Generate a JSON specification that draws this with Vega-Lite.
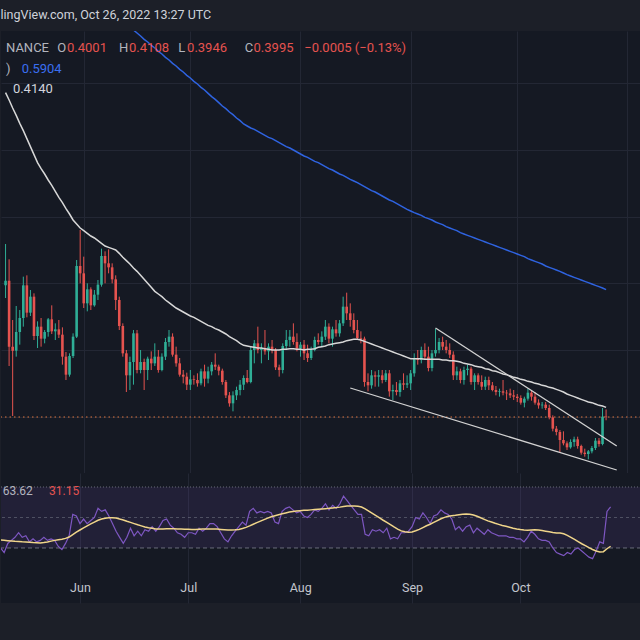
{
"$schema":"https://vega.github.io/schema/vega-lite/v6.json",
"background":"#1c1f28",
"padding":{"left":0,"right":0,"top":8,"bottom":38},
"spacing":0,
"title":{"text":"lingView.com, Oct 26, 2022 13:27 UTC","anchor":"start","frame":"bounds","fontSize":12.5,"fontWeight":"normal","color":"#cfd2da","offset":10},
"config":{"font":"Roboto","view":{"stroke":null,"fill":"#151923"},"axis":{"minExtent":0,"domain":false,"ticks":false,"gridColor":"#232734","gridWidth":1,"labelColor":"#c3c6ce","labelFontSize":12.5,"labelFont":"Roboto"}},
"datasets":{
"ada":[
{"d":"2022-05-10","o":0.597,"h":0.659,"l":0.578,"c":0.604,"m50":0.886,"r":30,"rm":35.2},
{"d":"2022-05-11","o":0.604,"h":0.636,"l":0.476,"c":0.505,"m50":0.875,"r":27,"rm":35.0},
{"d":"2022-05-12","o":0.505,"h":0.545,"l":0.401,"c":0.499,"m50":0.863,"r":33,"rm":34.8},
{"d":"2022-05-13","o":0.499,"h":0.566,"l":0.490,"c":0.527,"m50":0.852,"r":35,"rm":34.6},
{"d":"2022-05-14","o":0.527,"h":0.560,"l":0.508,"c":0.548,"m50":0.840,"r":37,"rm":34.4},
{"d":"2022-05-15","o":0.548,"h":0.610,"l":0.535,"c":0.597,"m50":0.829,"r":40,"rm":34.3},
{"d":"2022-05-16","o":0.597,"h":0.612,"l":0.549,"c":0.556,"m50":0.817,"r":37,"rm":34.1},
{"d":"2022-05-17","o":0.556,"h":0.590,"l":0.551,"c":0.580,"m50":0.805,"r":38,"rm":34.0},
{"d":"2022-05-18","o":0.580,"h":0.585,"l":0.515,"c":0.521,"m50":0.793,"r":34,"rm":33.8},
{"d":"2022-05-19","o":0.521,"h":0.543,"l":0.503,"c":0.535,"m50":0.781,"r":36,"rm":33.6},
{"d":"2022-05-20","o":0.535,"h":0.548,"l":0.505,"c":0.517,"m50":0.772,"r":34,"rm":33.5},
{"d":"2022-05-21","o":0.517,"h":0.530,"l":0.510,"c":0.527,"m50":0.764,"r":35,"rm":33.3},
{"d":"2022-05-22","o":0.527,"h":0.548,"l":0.520,"c":0.546,"m50":0.755,"r":37,"rm":33.6},
{"d":"2022-05-23","o":0.546,"h":0.567,"l":0.524,"c":0.528,"m50":0.747,"r":35,"rm":34.0},
{"d":"2022-05-24","o":0.528,"h":0.540,"l":0.515,"c":0.531,"m50":0.738,"r":36,"rm":34.5},
{"d":"2022-05-25","o":0.531,"h":0.545,"l":0.518,"c":0.523,"m50":0.729,"r":35,"rm":35.0},
{"d":"2022-05-26","o":0.523,"h":0.534,"l":0.478,"c":0.490,"m50":0.721,"r":31,"rm":35.4},
{"d":"2022-05-27","o":0.490,"h":0.497,"l":0.455,"c":0.463,"m50":0.712,"r":29,"rm":35.8},
{"d":"2022-05-28","o":0.463,"h":0.495,"l":0.460,"c":0.491,"m50":0.704,"r":33,"rm":36.3},
{"d":"2022-05-29","o":0.491,"h":0.525,"l":0.488,"c":0.520,"m50":0.695,"r":38,"rm":37.2},
{"d":"2022-05-30","o":0.520,"h":0.635,"l":0.518,"c":0.626,"m50":0.689,"r":52,"rm":38.8},
{"d":"2022-05-31","o":0.626,"h":0.680,"l":0.600,"c":0.615,"m50":0.683,"r":51,"rm":40.4},
{"d":"2022-06-01","o":0.615,"h":0.640,"l":0.563,"c":0.570,"m50":0.679,"r":46,"rm":41.8},
{"d":"2022-06-02","o":0.570,"h":0.600,"l":0.558,"c":0.591,"m50":0.675,"r":49,"rm":43.2},
{"d":"2022-06-03","o":0.591,"h":0.594,"l":0.560,"c":0.567,"m50":0.671,"r":46,"rm":44.5},
{"d":"2022-06-04","o":0.567,"h":0.590,"l":0.565,"c":0.583,"m50":0.668,"r":48,"rm":45.8},
{"d":"2022-06-05","o":0.583,"h":0.605,"l":0.575,"c":0.598,"m50":0.664,"r":50,"rm":47.0},
{"d":"2022-06-06","o":0.598,"h":0.652,"l":0.595,"c":0.641,"m50":0.660,"r":56,"rm":48.2},
{"d":"2022-06-07","o":0.641,"h":0.648,"l":0.600,"c":0.630,"m50":0.656,"r":54,"rm":49.0},
{"d":"2022-06-08","o":0.630,"h":0.651,"l":0.615,"c":0.624,"m50":0.654,"r":55,"rm":49.5},
{"d":"2022-06-09","o":0.624,"h":0.630,"l":0.600,"c":0.606,"m50":0.652,"r":51,"rm":49.8},
{"d":"2022-06-10","o":0.606,"h":0.612,"l":0.560,"c":0.575,"m50":0.650,"r":46,"rm":49.8},
{"d":"2022-06-11","o":0.575,"h":0.580,"l":0.530,"c":0.536,"m50":0.645,"r":41,"rm":49.7},
{"d":"2022-06-12","o":0.536,"h":0.540,"l":0.490,"c":0.495,"m50":0.639,"m200":0.994,"r":37,"rm":49.0},
{"d":"2022-06-13","o":0.495,"h":0.500,"l":0.437,"c":0.462,"m50":0.634,"m200":0.989,"r":33,"rm":48.4},
{"d":"2022-06-14","o":0.462,"h":0.490,"l":0.440,"c":0.482,"m50":0.629,"m200":0.985,"r":37,"rm":47.5},
{"d":"2022-06-15","o":0.482,"h":0.530,"l":0.448,"c":0.525,"m50":0.623,"m200":0.980,"r":43,"rm":46.8},
{"d":"2022-06-16","o":0.525,"h":0.530,"l":0.465,"c":0.470,"m50":0.618,"m200":0.9755,"r":38,"rm":46.0},
{"d":"2022-06-17","o":0.470,"h":0.500,"l":0.465,"c":0.482,"m50":0.612,"m200":0.971,"r":41,"rm":45.2},
{"d":"2022-06-18","o":0.482,"h":0.487,"l":0.440,"c":0.470,"m50":0.606,"m200":0.966,"r":38,"rm":44.5},
{"d":"2022-06-19","o":0.470,"h":0.490,"l":0.455,"c":0.487,"m50":0.600,"m200":0.962,"r":42,"rm":43.8},
{"d":"2022-06-20","o":0.487,"h":0.498,"l":0.470,"c":0.480,"m50":0.594,"m200":0.957,"r":41,"rm":43.3},
{"d":"2022-06-21","o":0.480,"h":0.510,"l":0.476,"c":0.490,"m50":0.588,"m200":0.953,"r":44,"rm":43.0},
{"d":"2022-06-22","o":0.490,"h":0.500,"l":0.466,"c":0.470,"m50":0.584,"m200":0.948,"r":41,"rm":42.5},
{"d":"2022-06-23","o":0.470,"h":0.495,"l":0.468,"c":0.490,"m50":0.580,"m200":0.944,"r":44,"rm":42.4},
{"d":"2022-06-24","o":0.490,"h":0.518,"l":0.485,"c":0.512,"m50":0.575,"m200":0.939,"r":48,"rm":42.5},
{"d":"2022-06-25","o":0.512,"h":0.530,"l":0.505,"c":0.520,"m50":0.571,"m200":0.935,"r":49,"rm":42.6},
{"d":"2022-06-26","o":0.520,"h":0.525,"l":0.490,"c":0.493,"m50":0.567,"m200":0.930,"r":45,"rm":42.6},
{"d":"2022-06-27","o":0.493,"h":0.505,"l":0.475,"c":0.480,"m50":0.563,"m200":0.926,"r":43,"rm":42.6},
{"d":"2022-06-28","o":0.480,"h":0.488,"l":0.460,"c":0.463,"m50":0.560,"m200":0.921,"r":40,"rm":42.5},
{"d":"2022-06-29","o":0.463,"h":0.470,"l":0.450,"c":0.460,"m50":0.557,"m200":0.917,"r":39,"rm":42.4},
{"d":"2022-06-30","o":0.460,"h":0.466,"l":0.440,"c":0.448,"m50":0.554,"m200":0.912,"r":37,"rm":42.3},
{"d":"2022-07-01","o":0.448,"h":0.470,"l":0.440,"c":0.456,"m50":0.551,"m200":0.908,"r":40,"rm":42.3},
{"d":"2022-07-02","o":0.456,"h":0.462,"l":0.448,"c":0.455,"m50":0.549,"m200":0.903,"r":40,"rm":42.2},
{"d":"2022-07-03","o":0.455,"h":0.465,"l":0.445,"c":0.450,"m50":0.546,"m200":0.899,"r":39,"rm":42.2},
{"d":"2022-07-04","o":0.450,"h":0.472,"l":0.447,"c":0.468,"m50":0.543,"m200":0.894,"r":43,"rm":42.3},
{"d":"2022-07-05","o":0.468,"h":0.478,"l":0.445,"c":0.457,"m50":0.540,"m200":0.890,"r":41,"rm":42.4},
{"d":"2022-07-06","o":0.457,"h":0.475,"l":0.450,"c":0.468,"m50":0.537,"m200":0.885,"r":43,"rm":42.5},
{"d":"2022-07-07","o":0.468,"h":0.482,"l":0.462,"c":0.478,"m50":0.535,"m200":0.880,"r":46,"rm":42.5},
{"d":"2022-07-08","o":0.478,"h":0.495,"l":0.470,"c":0.475,"m50":0.532,"m200":0.876,"r":46,"rm":42.5},
{"d":"2022-07-09","o":0.475,"h":0.478,"l":0.462,"c":0.469,"m50":0.530,"m200":0.871,"r":44,"rm":42.4},
{"d":"2022-07-10","o":0.469,"h":0.472,"l":0.448,"c":0.452,"m50":0.527,"m200":0.866,"r":40,"rm":42.2},
{"d":"2022-07-11","o":0.452,"h":0.455,"l":0.428,"c":0.432,"m50":0.524,"m200":0.862,"r":36,"rm":42.0},
{"d":"2022-07-12","o":0.432,"h":0.437,"l":0.415,"c":0.420,"m50":0.520,"m200":0.857,"r":34,"rm":41.8},
{"d":"2022-07-13","o":0.420,"h":0.438,"l":0.408,"c":0.432,"m50":0.517,"m200":0.853,"r":38,"rm":41.8},
{"d":"2022-07-14","o":0.432,"h":0.445,"l":0.425,"c":0.440,"m50":0.514,"m200":0.848,"r":41,"rm":41.9},
{"d":"2022-07-15","o":0.440,"h":0.455,"l":0.432,"c":0.448,"m50":0.510,"m200":0.844,"r":44,"rm":42.2},
{"d":"2022-07-16","o":0.448,"h":0.462,"l":0.440,"c":0.458,"m50":0.507,"m200":0.839,"r":47,"rm":42.8},
{"d":"2022-07-17","o":0.458,"h":0.470,"l":0.450,"c":0.452,"m50":0.506,"m200":0.836,"r":45,"rm":43.5},
{"d":"2022-07-18","o":0.452,"h":0.505,"l":0.450,"c":0.500,"m50":0.505,"m200":0.833,"r":54,"rm":44.5},
{"d":"2022-07-19","o":0.500,"h":0.515,"l":0.480,"c":0.510,"m50":0.504,"m200":0.831,"r":56,"rm":45.6},
{"d":"2022-07-20","o":0.510,"h":0.535,"l":0.495,"c":0.500,"m50":0.503,"m200":0.828,"r":53,"rm":46.6},
{"d":"2022-07-21","o":0.500,"h":0.510,"l":0.480,"c":0.503,"m50":0.503,"m200":0.825,"r":54,"rm":47.6},
{"d":"2022-07-22","o":0.503,"h":0.530,"l":0.493,"c":0.498,"m50":0.502,"m200":0.822,"r":53,"rm":48.6},
{"d":"2022-07-23","o":0.498,"h":0.510,"l":0.485,"c":0.505,"m50":0.501,"m200":0.819,"r":54,"rm":49.6},
{"d":"2022-07-24","o":0.505,"h":0.515,"l":0.495,"c":0.500,"m50":0.500,"m200":0.817,"r":53,"rm":50.5},
{"d":"2022-07-25","o":0.500,"h":0.503,"l":0.470,"c":0.474,"m50":0.500,"m200":0.814,"r":47,"rm":51.2},
{"d":"2022-07-26","o":0.474,"h":0.478,"l":0.460,"c":0.470,"m50":0.500,"m200":0.811,"r":46,"rm":51.8},
{"d":"2022-07-27","o":0.470,"h":0.510,"l":0.465,"c":0.506,"m50":0.501,"m200":0.808,"r":54,"rm":52.4},
{"d":"2022-07-28","o":0.506,"h":0.530,"l":0.500,"c":0.515,"m50":0.501,"m200":0.805,"r":56,"rm":53.0},
{"d":"2022-07-29","o":0.515,"h":0.530,"l":0.505,"c":0.520,"m50":0.502,"m200":0.803,"r":57,"rm":53.6},
{"d":"2022-07-30","o":0.520,"h":0.540,"l":0.508,"c":0.512,"m50":0.502,"m200":0.800,"r":55,"rm":54.0},
{"d":"2022-07-31","o":0.512,"h":0.525,"l":0.498,"c":0.502,"m50":0.501,"m200":0.797,"r":53,"rm":54.3},
{"d":"2022-08-01","o":0.502,"h":0.512,"l":0.490,"c":0.508,"m50":0.501,"m200":0.794,"r":54,"rm":54.5},
{"d":"2022-08-02","o":0.508,"h":0.515,"l":0.485,"c":0.495,"m50":0.500,"m200":0.791,"r":51,"rm":54.7},
{"d":"2022-08-03","o":0.495,"h":0.508,"l":0.482,"c":0.488,"m50":0.501,"m200":0.789,"r":50,"rm":54.8},
{"d":"2022-08-04","o":0.488,"h":0.505,"l":0.485,"c":0.500,"m50":0.501,"m200":0.786,"r":52,"rm":55.0},
{"d":"2022-08-05","o":0.500,"h":0.520,"l":0.498,"c":0.515,"m50":0.502,"m200":0.783,"r":55,"rm":55.2},
{"d":"2022-08-06","o":0.515,"h":0.525,"l":0.508,"c":0.512,"m50":0.504,"m200":0.781,"r":54,"rm":55.4},
{"d":"2022-08-07","o":0.512,"h":0.528,"l":0.505,"c":0.520,"m50":0.505,"m200":0.778,"r":56,"rm":55.6},
{"d":"2022-08-08","o":0.520,"h":0.545,"l":0.515,"c":0.535,"m50":0.506,"m200":0.775,"r":59,"rm":55.8},
{"d":"2022-08-09","o":0.535,"h":0.540,"l":0.510,"c":0.517,"m50":0.508,"m200":0.772,"r":55,"rm":56.0},
{"d":"2022-08-10","o":0.517,"h":0.535,"l":0.505,"c":0.531,"m50":0.509,"m200":0.770,"r":58,"rm":56.3},
{"d":"2022-08-11","o":0.531,"h":0.545,"l":0.520,"c":0.525,"m50":0.510,"m200":0.767,"r":56,"rm":56.5},
{"d":"2022-08-12","o":0.525,"h":0.545,"l":0.520,"c":0.540,"m50":0.511,"m200":0.764,"r":59,"rm":56.8},
{"d":"2022-08-13","o":0.540,"h":0.580,"l":0.536,"c":0.565,"m50":0.512,"m200":0.762,"r":64,"rm":57.2},
{"d":"2022-08-14","o":0.565,"h":0.586,"l":0.545,"c":0.555,"m50":0.514,"m200":0.759,"r":61,"rm":57.5},
{"d":"2022-08-15","o":0.555,"h":0.570,"l":0.535,"c":0.545,"m50":0.515,"m200":0.756,"r":58,"rm":57.6},
{"d":"2022-08-16","o":0.545,"h":0.555,"l":0.525,"c":0.530,"m50":0.516,"m200":0.7535,"r":55,"rm":57.5},
{"d":"2022-08-17","o":0.530,"h":0.545,"l":0.515,"c":0.518,"m50":0.516,"m200":0.751,"r":52,"rm":57.3},
{"d":"2022-08-18","o":0.518,"h":0.528,"l":0.510,"c":0.517,"m50":0.515,"m200":0.748,"r":52,"rm":56.9},
{"d":"2022-08-19","o":0.517,"h":0.520,"l":0.445,"c":0.452,"m50":0.513,"m200":0.745,"r":39,"rm":55.6},
{"d":"2022-08-20","o":0.452,"h":0.465,"l":0.438,"c":0.447,"m50":0.511,"m200":0.742,"r":38,"rm":54.2},
{"d":"2022-08-21","o":0.447,"h":0.470,"l":0.442,"c":0.462,"m50":0.509,"m200":0.739,"r":42,"rm":52.7},
{"d":"2022-08-22","o":0.462,"h":0.468,"l":0.445,"c":0.460,"m50":0.507,"m200":0.737,"r":41,"rm":51.2},
{"d":"2022-08-23","o":0.460,"h":0.470,"l":0.445,"c":0.462,"m50":0.505,"m200":0.734,"r":42,"rm":49.7},
{"d":"2022-08-24","o":0.462,"h":0.470,"l":0.450,"c":0.455,"m50":0.503,"m200":0.731,"r":40,"rm":48.2},
{"d":"2022-08-25","o":0.455,"h":0.470,"l":0.452,"c":0.465,"m50":0.501,"m200":0.728,"r":43,"rm":46.8},
{"d":"2022-08-26","o":0.465,"h":0.470,"l":0.430,"c":0.438,"m50":0.499,"m200":0.725,"r":36,"rm":45.3},
{"d":"2022-08-27","o":0.438,"h":0.448,"l":0.425,"c":0.440,"m50":0.497,"m200":0.723,"r":37,"rm":43.8},
{"d":"2022-08-28","o":0.440,"h":0.452,"l":0.432,"c":0.437,"m50":0.495,"m200":0.720,"r":36,"rm":42.4},
{"d":"2022-08-29","o":0.437,"h":0.455,"l":0.430,"c":0.450,"m50":0.493,"m200":0.717,"r":40,"rm":41.2},
{"d":"2022-08-30","o":0.450,"h":0.465,"l":0.440,"c":0.448,"m50":0.491,"m200":0.714,"r":40,"rm":40.6},
{"d":"2022-08-31","o":0.448,"h":0.462,"l":0.443,"c":0.450,"m50":0.489,"m200":0.711,"r":41,"rm":40.4},
{"d":"2022-09-01","o":0.450,"h":0.470,"l":0.440,"c":0.465,"m50":0.487,"m200":0.7085,"r":44,"rm":40.5},
{"d":"2022-09-02","o":0.465,"h":0.495,"l":0.460,"c":0.488,"m50":0.487,"m200":0.706,"r":50,"rm":41.3},
{"d":"2022-09-03","o":0.488,"h":0.500,"l":0.478,"c":0.485,"m50":0.487,"m200":0.704,"r":49,"rm":42.2},
{"d":"2022-09-04","o":0.485,"h":0.505,"l":0.480,"c":0.500,"m50":0.487,"m200":0.702,"r":53,"rm":43.4},
{"d":"2022-09-05","o":0.500,"h":0.510,"l":0.485,"c":0.490,"m50":0.486,"m200":0.699,"r":50,"rm":44.6},
{"d":"2022-09-06","o":0.490,"h":0.505,"l":0.468,"c":0.473,"m50":0.486,"m200":0.697,"r":46,"rm":45.6},
{"d":"2022-09-07","o":0.473,"h":0.500,"l":0.468,"c":0.495,"m50":0.486,"m200":0.695,"r":51,"rm":46.8},
{"d":"2022-09-08","o":0.495,"h":0.532,"l":0.490,"c":0.500,"m50":0.486,"m200":0.692,"r":52,"rm":48.0},
{"d":"2022-09-09","o":0.500,"h":0.518,"l":0.495,"c":0.512,"m50":0.486,"m200":0.690,"r":55,"rm":49.2},
{"d":"2022-09-10","o":0.512,"h":0.520,"l":0.500,"c":0.505,"m50":0.485,"m200":0.688,"r":53,"rm":50.1},
{"d":"2022-09-11","o":0.505,"h":0.515,"l":0.495,"c":0.500,"m50":0.485,"m200":0.685,"r":52,"rm":50.8},
{"d":"2022-09-12","o":0.500,"h":0.510,"l":0.488,"c":0.493,"m50":0.484,"m200":0.683,"r":49,"rm":51.2},
{"d":"2022-09-13","o":0.493,"h":0.498,"l":0.455,"c":0.462,"m50":0.484,"m200":0.681,"r":42,"rm":51.4},
{"d":"2022-09-14","o":0.462,"h":0.475,"l":0.455,"c":0.468,"m50":0.483,"m200":0.679,"r":44,"rm":51.8},
{"d":"2022-09-15","o":0.468,"h":0.472,"l":0.450,"c":0.455,"m50":0.482,"m200":0.676,"r":41,"rm":52.1},
{"d":"2022-09-16","o":0.455,"h":0.475,"l":0.448,"c":0.470,"m50":0.480,"m200":0.674,"r":44,"rm":52.3},
{"d":"2022-09-17","o":0.470,"h":0.478,"l":0.462,"c":0.472,"m50":0.479,"m200":0.672,"r":45,"rm":52.1},
{"d":"2022-09-18","o":0.472,"h":0.475,"l":0.448,"c":0.452,"m50":0.478,"m200":0.670,"r":40,"rm":51.6},
{"d":"2022-09-19","o":0.452,"h":0.465,"l":0.440,"c":0.462,"m50":0.476,"m200":0.668,"r":43,"rm":50.8},
{"d":"2022-09-20","o":0.462,"h":0.465,"l":0.448,"c":0.452,"m50":0.475,"m200":0.666,"r":41,"rm":49.8},
{"d":"2022-09-21","o":0.452,"h":0.462,"l":0.440,"c":0.445,"m50":0.474,"m200":0.664,"r":39,"rm":48.8},
{"d":"2022-09-22","o":0.445,"h":0.460,"l":0.440,"c":0.455,"m50":0.472,"m200":0.662,"r":42,"rm":47.8},
{"d":"2022-09-23","o":0.455,"h":0.460,"l":0.440,"c":0.447,"m50":0.471,"m200":0.660,"r":40,"rm":47.0},
{"d":"2022-09-24","o":0.447,"h":0.452,"l":0.438,"c":0.440,"m50":0.469,"m200":0.658,"r":39,"rm":46.2},
{"d":"2022-09-25","o":0.440,"h":0.446,"l":0.432,"c":0.437,"m50":0.468,"m200":0.656,"r":38,"rm":45.5},
{"d":"2022-09-26","o":0.437,"h":0.442,"l":0.430,"c":0.438,"m50":0.466,"m200":0.654,"r":38,"rm":44.8},
{"d":"2022-09-27","o":0.438,"h":0.455,"l":0.432,"c":0.436,"m50":0.464,"m200":0.652,"r":38,"rm":44.2},
{"d":"2022-09-28","o":0.436,"h":0.440,"l":0.425,"c":0.435,"m50":0.463,"m200":0.650,"r":37,"rm":43.6},
{"d":"2022-09-29","o":0.435,"h":0.442,"l":0.428,"c":0.432,"m50":0.461,"m200":0.648,"r":37,"rm":43.0},
{"d":"2022-09-30","o":0.432,"h":0.440,"l":0.425,"c":0.430,"m50":0.459,"m200":0.646,"r":36,"rm":42.5},
{"d":"2022-10-01","o":0.430,"h":0.434,"l":0.422,"c":0.428,"m50":0.458,"m200":0.644,"r":36,"rm":42.1},
{"d":"2022-10-02","o":0.428,"h":0.432,"l":0.418,"c":0.421,"m50":0.456,"m200":0.642,"r":34,"rm":41.8},
{"d":"2022-10-03","o":0.421,"h":0.430,"l":0.414,"c":0.427,"m50":0.455,"m200":0.640,"r":37,"rm":41.7},
{"d":"2022-10-04","o":0.427,"h":0.442,"l":0.424,"c":0.436,"m50":0.453,"m200":0.637,"r":41,"rm":41.8},
{"d":"2022-10-05","o":0.436,"h":0.440,"l":0.424,"c":0.430,"m50":0.452,"m200":0.635,"r":39,"rm":41.9},
{"d":"2022-10-06","o":0.430,"h":0.437,"l":0.418,"c":0.421,"m50":0.450,"m200":0.633,"r":36,"rm":41.8},
{"d":"2022-10-07","o":0.421,"h":0.426,"l":0.412,"c":0.417,"m50":0.449,"m200":0.631,"r":35,"rm":41.4},
{"d":"2022-10-08","o":0.417,"h":0.422,"l":0.412,"c":0.418,"m50":0.447,"m200":0.629,"r":35,"rm":41.0},
{"d":"2022-10-09","o":0.418,"h":0.422,"l":0.410,"c":0.413,"m50":0.446,"m200":0.626,"r":34,"rm":40.6},
{"d":"2022-10-10","o":0.413,"h":0.418,"l":0.396,"c":0.399,"m50":0.444,"m200":0.624,"r":30,"rm":40.2},
{"d":"2022-10-11","o":0.399,"h":0.402,"l":0.378,"c":0.382,"m50":0.443,"m200":0.622,"r":27,"rm":39.9},
{"d":"2022-10-12","o":0.382,"h":0.386,"l":0.372,"c":0.377,"m50":0.441,"m200":0.620,"r":26,"rm":39.8},
{"d":"2022-10-13","o":0.377,"h":0.380,"l":0.347,"c":0.365,"m50":0.439,"m200":0.618,"r":25,"rm":39.3},
{"d":"2022-10-14","o":0.365,"h":0.378,"l":0.357,"c":0.360,"m50":0.437,"m200":0.6155,"r":27,"rm":38.3},
{"d":"2022-10-15","o":0.360,"h":0.363,"l":0.350,"c":0.354,"m50":0.434,"m200":0.613,"r":26,"rm":37.0},
{"d":"2022-10-16","o":0.354,"h":0.366,"l":0.352,"c":0.362,"m50":0.432,"m200":0.611,"r":29,"rm":35.6},
{"d":"2022-10-17","o":0.362,"h":0.370,"l":0.355,"c":0.366,"m50":0.430,"m200":0.609,"r":30,"rm":34.2},
{"d":"2022-10-18","o":0.366,"h":0.370,"l":0.352,"c":0.356,"m50":0.428,"m200":0.607,"r":28,"rm":32.8},
{"d":"2022-10-19","o":0.356,"h":0.358,"l":0.343,"c":0.346,"m50":0.426,"m200":0.605,"r":26,"rm":31.5},
{"d":"2022-10-20","o":0.346,"h":0.352,"l":0.340,"c":0.344,"m50":0.424,"m200":0.603,"r":24,"rm":30.2},
{"d":"2022-10-21","o":0.344,"h":0.350,"l":0.336,"c":0.348,"m50":0.422,"m200":0.601,"r":23,"rm":29.0},
{"d":"2022-10-22","o":0.348,"h":0.356,"l":0.345,"c":0.353,"m50":0.421,"m200":0.599,"r":28,"rm":28.0},
{"d":"2022-10-23","o":0.353,"h":0.368,"l":0.350,"c":0.364,"m50":0.419,"m200":0.597,"r":34,"rm":27.4},
{"d":"2022-10-24","o":0.364,"h":0.368,"l":0.355,"c":0.359,"m50":0.417,"m200":0.595,"r":33,"rm":27.6},
{"d":"2022-10-25","o":0.359,"h":0.413,"l":0.357,"c":0.400,"m50":0.416,"m200":0.593,"r":54,"rm":29.5},
{"d":"2022-10-26","o":0.4001,"h":0.4108,"l":0.3946,"c":0.3995,"m50":0.414,"m200":0.5905,"r":57,"rm":31.15}
],
"trend":[
{"g":"u","d":"2022-09-08","p":0.533},
{"g":"u","d":"2022-10-29","p":0.356},
{"g":"l","d":"2022-08-15","p":0.443},
{"g":"l","d":"2022-10-29","p":0.320}
],
"notes":[
{"t":"NANCE","d":"2022-05-10T03:00:00Z","p":0.953,"k":"g"},
{"t":"O","d":"2022-05-24T12:30:00Z","p":0.953,"k":"g"},
{"t":"0.4001","d":"2022-05-27T07:00:00Z","p":0.953,"k":"r"},
{"t":"H","d":"2022-06-10T23:00:00Z","p":0.953,"k":"g"},
{"t":"0.4108","d":"2022-06-13T18:00:00Z","p":0.953,"k":"r"},
{"t":"L","d":"2022-06-27T14:00:00Z","p":0.953,"k":"g"},
{"t":"0.3946","d":"2022-06-30T02:00:00Z","p":0.953,"k":"r"},
{"t":"C","d":"2022-07-16T08:00:00Z","p":0.953,"k":"g"},
{"t":"0.3995","d":"2022-07-18T19:00:00Z","p":0.953,"k":"r"},
{"t":"−0.0005 (−0.13%)","d":"2022-08-02T01:00:00Z","p":0.953,"k":"r"},
{"t":")","d":"2022-05-10T03:00:00Z","p":0.9215,"k":"g"},
{"t":"0.5904","d":"2022-05-14T13:00:00Z","p":0.9215,"k":"b"},
{"t":"0.4140","d":"2022-05-12T01:30:00Z","p":0.8915,"k":"w"}
],
"rnotes":[
{"t":"63.62","d":"2022-05-10T14:00:00Z","p":67.4,"k":"p"},
{"t":"31.15","d":"2022-05-23T10:00:00Z","p":67.4,"k":"y"}
]
},
"vconcat":[
{
"width":640,"height":442,
"resolve":{"axis":{"x":"independent","y":"independent"}},
"layer":[
{"data":{"values":[{}]},"mark":{"type":"rule","color":"#e0773f","strokeDash":[1.5,3],"strokeWidth":1},
 "encoding":{"y":{"datum":0.3995,"type":"quantitative","scale":{"domain":[0.3155,0.9785],"zero":false,"nice":false},"axis":null}}},
{"data":{"name":"ada"},"mark":{"type":"rule","clip":true,"strokeWidth":1},
 "encoding":{
  "x":{"field":"d","type":"temporal","scale":{"type":"utc","domain":[{"year":2022,"month":5,"date":10,"hours":3,"utc":true},{"year":2022,"month":11,"date":3,"hours":10,"utc":true}]},
       "axis":{"values":[{"year":2022,"month":6,"date":1,"utc":true},{"year":2022,"month":7,"date":1,"utc":true},{"year":2022,"month":8,"date":1,"utc":true},{"year":2022,"month":9,"date":1,"utc":true},{"year":2022,"month":10,"date":1,"utc":true},{"year":2022,"month":11,"date":1,"utc":true}],"labels":false,"grid":true,"title":null}},
  "y":{"field":"l","type":"quantitative","scale":{"domain":[0.3155,0.9785],"zero":false,"nice":false},"axis":{"values":[0.4,0.5,0.6,0.7,0.8,0.9],"labels":false,"grid":true,"title":null}},
  "y2":{"field":"h"},
  "color":{"condition":{"test":"datum.c >= datum.o","value":"#2fae96"},"value":"#e5534f"}}},
{"data":{"name":"ada"},"mark":{"type":"bar","clip":true,"size":2.6},
 "encoding":{
  "x":{"field":"d","type":"temporal","scale":{"type":"utc","domain":[{"year":2022,"month":5,"date":10,"hours":3,"utc":true},{"year":2022,"month":11,"date":3,"hours":10,"utc":true}]},"axis":null},
  "y":{"field":"o","type":"quantitative","scale":{"domain":[0.3155,0.9785],"zero":false,"nice":false},"axis":null},
  "y2":{"field":"c"},
  "color":{"condition":{"test":"datum.c >= datum.o","value":"#2fae96"},"value":"#e5534f"}}},
{"data":{"name":"ada"},"mark":{"type":"line","clip":true,"color":"#d8d8d8","strokeWidth":1.5},
 "encoding":{
  "x":{"field":"d","type":"temporal","scale":{"type":"utc","domain":[{"year":2022,"month":5,"date":10,"hours":3,"utc":true},{"year":2022,"month":11,"date":3,"hours":10,"utc":true}]},"axis":null},
  "y":{"field":"m50","type":"quantitative","scale":{"domain":[0.3155,0.9785],"zero":false,"nice":false},"axis":null}}},
{"data":{"name":"ada"},"mark":{"type":"line","clip":true,"color":"#2f63e0","strokeWidth":1.5},
 "encoding":{
  "x":{"field":"d","type":"temporal","scale":{"type":"utc","domain":[{"year":2022,"month":5,"date":10,"hours":3,"utc":true},{"year":2022,"month":11,"date":3,"hours":10,"utc":true}]},"axis":null},
  "y":{"field":"m200","type":"quantitative","scale":{"domain":[0.3155,0.9785],"zero":false,"nice":false},"axis":null}}},
{"data":{"name":"trend"},"mark":{"type":"line","clip":true,"color":"#d2d2d2","strokeWidth":1.3},
 "encoding":{
  "x":{"field":"d","type":"temporal","scale":{"type":"utc","domain":[{"year":2022,"month":5,"date":10,"hours":3,"utc":true},{"year":2022,"month":11,"date":3,"hours":10,"utc":true}]},"axis":null},
  "y":{"field":"p","type":"quantitative","scale":{"domain":[0.3155,0.9785],"zero":false,"nice":false},"axis":null},
  "detail":{"field":"g"}}},
{"data":{"name":"notes"},"mark":{"type":"text","align":"left","baseline":"middle","fontSize":13},
 "encoding":{
  "x":{"field":"d","type":"temporal","scale":{"type":"utc","domain":[{"year":2022,"month":5,"date":10,"hours":3,"utc":true},{"year":2022,"month":11,"date":3,"hours":10,"utc":true}]},"axis":null},
  "y":{"field":"p","type":"quantitative","scale":{"domain":[0.3155,0.9785],"zero":false,"nice":false},"axis":null},
  "text":{"field":"t"},
  "color":{"field":"k","type":"nominal","scale":{"domain":["g","r","b","w"],"range":["#b2b5be","#e5534f","#3a6ff0","#d1d4dc"]},"legend":null}}}
]
},
{
"width":640,"height":130,
"resolve":{"axis":{"x":"independent","y":"independent"}},
"layer":[
{"data":{"values":[{}]},"mark":{"type":"rect","color":"#7e57c2","opacity":0.13},
 "encoding":{"y":{"datum":70,"type":"quantitative","scale":{"domain":[-6.07,79.18],"zero":false,"nice":false},"axis":null},"y2":{"datum":30}}},
{"data":{"values":[{}]},"mark":{"type":"rule","color":"#8a8d98","strokeDash":[1,2],"strokeWidth":1,"opacity":0.7},
 "encoding":{"y":{"datum":70,"type":"quantitative","scale":{"domain":[-6.07,79.18],"zero":false,"nice":false},"axis":null}}},
{"data":{"values":[{}]},"mark":{"type":"rule","color":"#8a8d98","strokeDash":[3,3],"strokeWidth":1,"opacity":0.45},
 "encoding":{"y":{"datum":50,"type":"quantitative","scale":{"domain":[-6.07,79.18],"zero":false,"nice":false},"axis":null}}},
{"data":{"values":[{}]},"mark":{"type":"rule","color":"#8a8d98","strokeDash":[4,3],"strokeWidth":1,"opacity":0.7},
 "encoding":{"y":{"datum":30,"type":"quantitative","scale":{"domain":[-6.07,79.18],"zero":false,"nice":false},"axis":null}}},
{"data":{"name":"ada"},"mark":{"type":"line","clip":true,"color":"#7e57c2","strokeWidth":1.2},
 "encoding":{
  "x":{"field":"d","type":"temporal","scale":{"type":"utc","domain":[{"year":2022,"month":5,"date":10,"hours":3,"utc":true},{"year":2022,"month":11,"date":3,"hours":10,"utc":true}]},
       "axis":{"values":[{"year":2022,"month":6,"date":1,"utc":true},{"year":2022,"month":7,"date":1,"utc":true},{"year":2022,"month":8,"date":1,"utc":true},{"year":2022,"month":9,"date":1,"utc":true},{"year":2022,"month":10,"date":1,"utc":true}],"labelExpr":"utcFormat(datum.value, '%b')","labels":true,"grid":true,"offset":-26,"labelPadding":4,"title":null}},
  "y":{"field":"r","type":"quantitative","scale":{"domain":[-6.07,79.18],"zero":false,"nice":false},"axis":null}}},
{"data":{"name":"ada"},"mark":{"type":"line","clip":true,"color":"#f0d58a","strokeWidth":1.5},
 "encoding":{
  "x":{"field":"d","type":"temporal","scale":{"type":"utc","domain":[{"year":2022,"month":5,"date":10,"hours":3,"utc":true},{"year":2022,"month":11,"date":3,"hours":10,"utc":true}]},"axis":null},
  "y":{"field":"rm","type":"quantitative","scale":{"domain":[-6.07,79.18],"zero":false,"nice":false},"axis":null}}},
{"data":{"name":"rnotes"},"mark":{"type":"text","align":"left","baseline":"middle","fontSize":12},
 "encoding":{
  "x":{"field":"d","type":"temporal","scale":{"type":"utc","domain":[{"year":2022,"month":5,"date":10,"hours":3,"utc":true},{"year":2022,"month":11,"date":3,"hours":10,"utc":true}]},"axis":null},
  "y":{"field":"p","type":"quantitative","scale":{"domain":[-6.07,79.18],"zero":false,"nice":false},"axis":null},
  "text":{"field":"t"},
  "color":{"field":"k","type":"nominal","scale":{"domain":["p","y"],"range":["#8c6be0","#f2cf6b"]},"legend":null}}}
]
}
]
}
